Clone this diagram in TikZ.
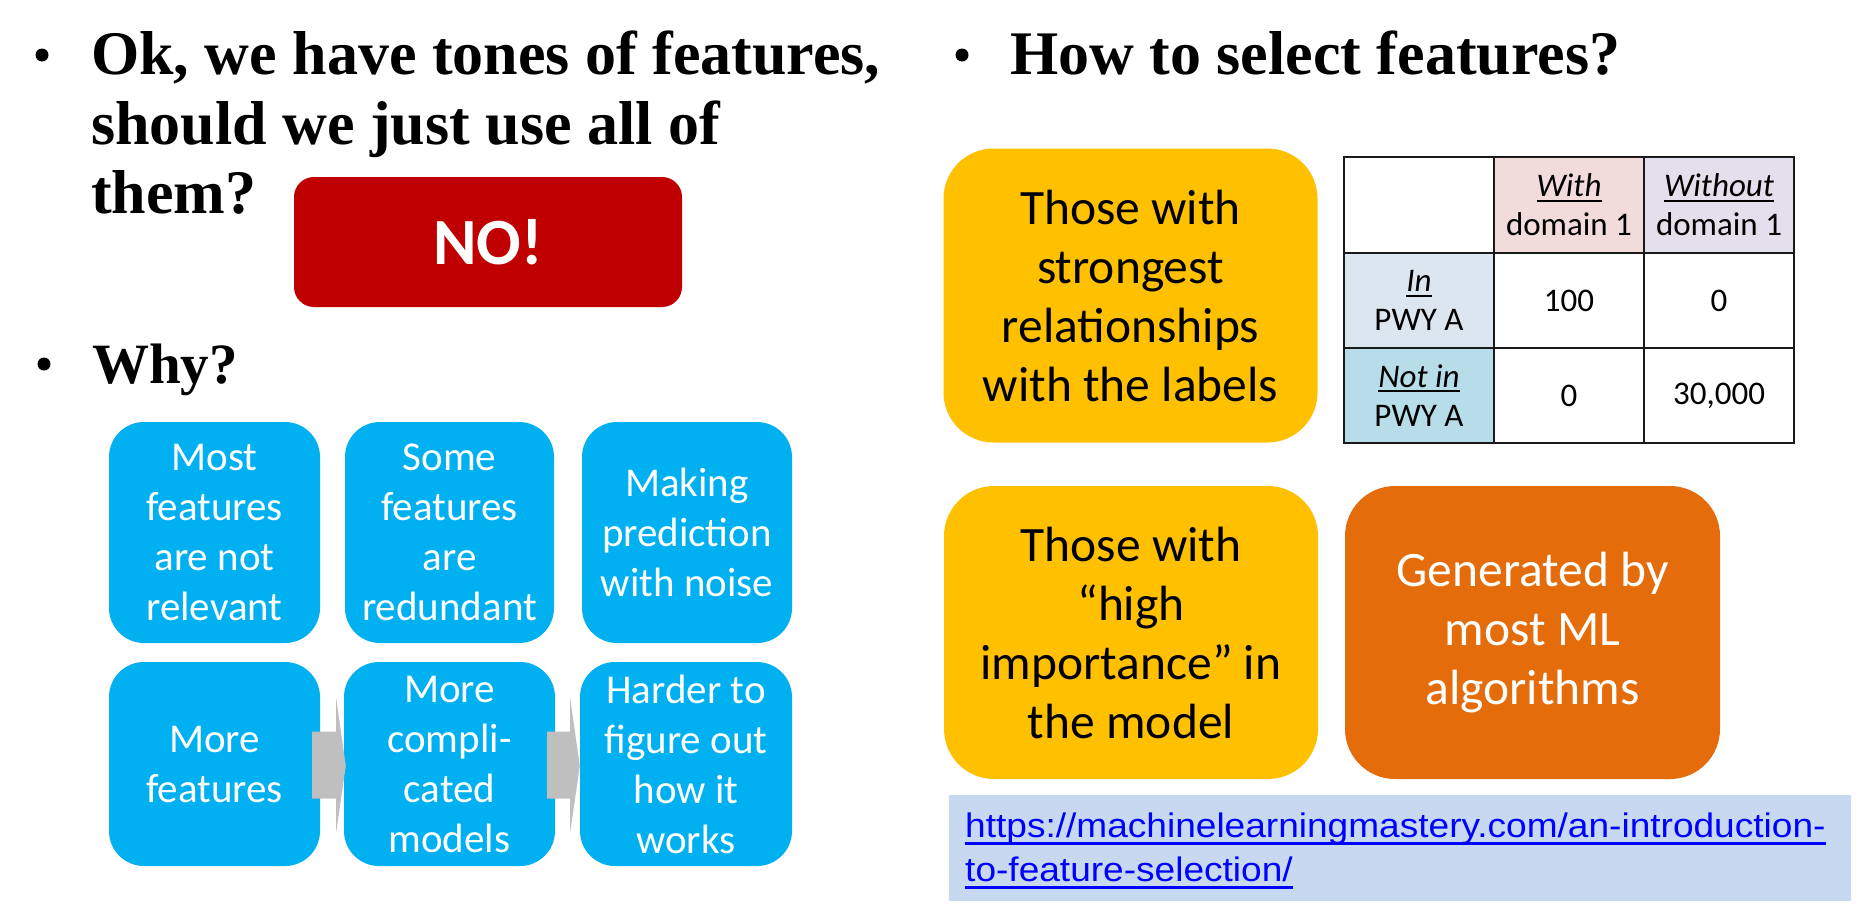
\documentclass[tikz,border=0pt]{standalone}
\usepackage{fontspec}
\setmainfont{Liberation Serif}
\newfontfamily\calfont{Carlito}
\newfontfamily\arialfont[FakeStretch=1.09]{Liberation Sans}
\usetikzlibrary{calc}

\definecolor{cyanbox}{HTML}{00B0F0}
\definecolor{nored}{HTML}{C00000}
\definecolor{ybox}{HTML}{FFC000}
\definecolor{obox}{HTML}{E46C0A}
\definecolor{linkbg}{HTML}{C6D9F1}
\definecolor{linkblue}{HTML}{0000FF}
\definecolor{arrowgray}{HTML}{BFBFBF}
\definecolor{cellpink}{HTML}{F2DCDB}
\definecolor{celllav}{HTML}{E4DFEC}
\definecolor{cellblue}{HTML}{DCE6F1}
\definecolor{cellteal}{HTML}{B7DEE8}
\definecolor{gridline}{HTML}{1A1A1A}

% underline at a fixed depth below the baseline: #1 = top offset, #2 = bottom offset
\newsavebox\ulbox
\newcommand\ulfix[3]{\sbox\ulbox{#3}\rlap{\vrule height -#1pt depth #2pt width \wd\ulbox}\usebox\ulbox}

\tikzset{
  heading/.style={anchor=base west, inner sep=0pt, font=\fontsize{62}{70}\selectfont\bfseries},
  bulletdot/.style={circle, fill=black, inner sep=0pt, minimum size=13pt},
  whybox/.style={rounded corners=35pt, fill=cyanbox, inner sep=0pt, text=white, align=center,
    font=\calfont\fontsize{41}{50}\selectfont},
  bigbox/.style={rounded corners=50pt, inner sep=0pt, align=center,
    font=\calfont\fontsize{49.5}{59}\selectfont},
  cell/.style={draw=gridline, line width=2pt, minimum width=150pt, inner sep=0pt, align=center,
    font=\calfont\fontsize{33}{39}\selectfont},
  linkline/.style={anchor=base west, inner sep=0pt, text=linkblue,
    font=\arialfont\fontsize{34}{43}\selectfont},
}

\begin{document}
\begin{tikzpicture}[x=1pt, y=-1pt]
\useasboundingbox (0,0) rectangle (1857,916);

% ---- left column: question and answer
\node[bulletdot] (bl1) at (42,55) {};
\node[heading] (q1) at (91,74) {Ok, we have tones of features,};
\node[heading] (q2) at (91,144) {should we just use all of};
\node[heading] (q3) at (91,213) {them?};
\node[rounded corners=20pt, fill=nored, minimum width=388pt, minimum height=130pt, inner sep=0pt,
  text=white, font=\calfont\bfseries\fontsize{66}{70}\selectfont] (no) at (488,242) {NO!};

\node[bulletdot] (bl2) at (44,364) {};
\node[heading, font=\fontsize{57}{70}\selectfont\bfseries] (why) at (92,383) {Why?};

% ---- reasons
\node[whybox, minimum width=211pt, minimum height=221pt] (b1) at (214.5,532.5) {Most\\features\\are not\\relevant};
\node[whybox, minimum width=209pt, minimum height=221pt] (b2) at (449.5,532.5) {Some\\features\\are\\redundant};
\node[whybox, minimum width=210pt, minimum height=221pt] (b3) at (687,532.5) {Making\\prediction\\with noise};
\node[whybox, minimum width=211pt, minimum height=204pt] (b4) at (214.5,764) {More\\features};
\node[whybox, minimum width=211pt, minimum height=204pt] (b5) at (449.5,764) {More\\compli-\\cated\\models};
\node[whybox, minimum width=212pt, minimum height=204pt] (b6) at (686,764) {Harder to\\figure out\\how it\\works};

% block arrows of the chain
\fill[arrowgray] ($(b4.east)+(-8,-32.5)$) -- ($(b4.east)+(16,-32.5)$) -- ($(b4.east)+(16,-66)$)
  -- ($(b5.west)+(2,2)$) -- ($(b4.east)+(16,68)$) -- ($(b4.east)+(16,34.5)$) -- ($(b4.east)+(-8,34.5)$) -- cycle;
\fill[arrowgray] ($(b5.east)+(-8,-32.5)$) -- ($(b5.east)+(15,-32.5)$) -- ($(b5.east)+(15,-66)$)
  -- ($(b6.west)+(0,2)$) -- ($(b5.east)+(15,68)$) -- ($(b5.east)+(15,34.5)$) -- ($(b5.east)+(-8,34.5)$) -- cycle;

% ---- right column
\node[bulletdot] (bl3) at (962,55) {};
\node[heading] (how) at (1010,74) {How to select features?};

\node[bigbox, fill=ybox, minimum width=374pt, minimum height=294pt] (y1) at (1130.5,295.5)
  {Those with\\strongest\\relationships\\with the labels};
\node[bigbox, fill=ybox, minimum width=374pt, minimum height=293pt] (y2) at (1131,632.5)
  {Those with\\“high\\importance” in\\the model};
\node[bigbox, fill=obox, text=white, minimum width=375pt, minimum height=293pt] (o1) at (1532.5,632.5)
  {Generated by\\most ML\\algorithms};

% contingency table
\node[cell, fill=white,    minimum height=96pt] (c11) at (1419,205) {};
\node[cell, fill=cellpink, minimum height=96pt] (c12) at (1569,205) {\ulfix{3}{5}{\itshape With}\\domain 1};
\node[cell, fill=celllav,  minimum height=96pt] (c13) at (1719,205) {\ulfix{3}{5}{\itshape Without}\\domain 1};
\node[cell, fill=cellblue, minimum height=95pt] (c21) at (1419,300.5) {\ulfix{3}{5}{\itshape In}\\PWY A};
\node[cell, fill=white,    minimum height=95pt] (c22) at (1569,300.5) {100};
\node[cell, fill=white,    minimum height=95pt] (c23) at (1719,300.5) {0};
\node[cell, fill=cellteal, minimum height=95pt] (c31) at (1419,395.5) {\ulfix{3}{5}{\itshape Not in}\\PWY A};
\node[cell, fill=white,    minimum height=95pt] (c32) at (1569,395.5) {0};
\node[cell, fill=white,    minimum height=95pt] (c33) at (1719,395.5) {30,000};

% reference link
\fill[linkbg] (949,795) rectangle (1851,901);
\node[linkline] (l1) at (965,837) {\ulfix{4.5}{7.5}{https://machinelearningmastery.com/an-introduction-}};
\node[linkline] (l2) at (965,881) {\ulfix{4.5}{7.5}{to-feature-selection/}};
\end{tikzpicture}
\end{document}
